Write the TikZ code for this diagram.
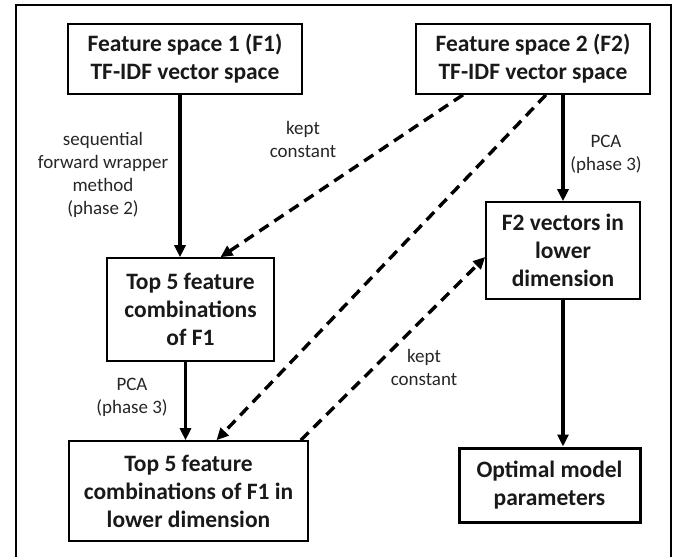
\documentclass[tikz,border=0pt]{standalone}
\usepackage{fontspec}
\setmainfont{Carlito}
\usetikzlibrary{arrows.meta,positioning,calc}

\begin{document}
\begin{tikzpicture}[
    x=1pt, y=-1pt,
    % Process boxes: plain rectangles, bold text
    box/.style={rectangle, draw, line width=1.6pt, align=center, inner sep=2pt,
        font=\bfseries\fontsize{23.5}{28}\selectfont, text=black!90},
    % Final result box: heavier border
    finalbox/.style={box, line width=3pt},
    % Solid arrow
    arr/.style={-{Triangle[length=12pt,width=11pt]}, line width=3.4pt},
    % Dashed arrow (kept constant)
    dasharr/.style={-{Triangle[length=12pt,width=11pt]}, line width=3.4pt,
        dash pattern=on 11pt off 7pt},
    % Edge label
    lbl/.style={align=center, font=\fontsize{19}{23}\selectfont, text=black!85},
    % Outer frame
    frame/.style={line width=2pt},
]
\useasboundingbox (0,0) rectangle (678,557);

% ============================================================
% Outer frame (bottom edge cut off)
% ============================================================
\draw[frame] (16,557) -- (16,5) -- (671,5) -- (671,557);

% ============================================================
% Boxes
% ============================================================
\node[box, minimum width=234, minimum height=70] (f1) at (185,59)
    {Feature space 1 (F1)\\TF-IDF vector space};
\node[box, minimum width=234, minimum height=70] (f2) at (533,59)
    {Feature space 2 (F2)\\TF-IDF vector space};
\node[box, minimum width=167, minimum height=103] (top5) at (190.5,309.5)
    {Top 5 feature\\combinations\\of F1};
\node[box, minimum width=239, minimum height=100] (top5low) at (188.5,491)
    {Top 5 feature\\combinations of F1 in\\lower dimension};
\node[box, minimum width=154, minimum height=97] (f2low) at (563,250.5)
    {F2 vectors in\\lower\\dimension};
\node[finalbox, minimum width=181, minimum height=74] (optim) at (549.5,485)
    {Optimal model\\parameters};

% ============================================================
% Solid arrows
% ============================================================
\draw[arr] ([xshift=-5]f1.south) -- ([xshift=-5]f1.south |- top5.north);
\draw[arr] ([xshift=-5]top5.south) -- ([xshift=-5]top5.south |- top5low.north);
\draw[arr] (f2.south -| f2low.north) -- (f2low.north);
\draw[arr] (f2low.south) -- (f2low.south |- optim.north);

% ============================================================
% Dashed arrows (kept constant)
% ============================================================
\draw[dasharr] ([xshift=-70]f2.south) -- ([xshift=30]top5.north);
\draw[dasharr] ([xshift=13]f2.south) -- ([xshift=28]top5low.north);
\draw[dasharr] ([xshift=-8]top5low.north east) -- ([yshift=-6.5]f2low.west);

% ============================================================
% Labels
% ============================================================
\node[lbl] (lblsfw) at (103,175) {sequential\\forward wrapper\\method\\(phase 2)};
\node[lbl] (lblkc1) at (303,139) {kept\\constant};
\node[lbl] (lblpca2) at (606,154) {PCA\\(phase 3)};
\node[lbl] (lblpca1) at (132,397) {PCA\\(phase 3)};
\node[lbl] (lblkc2) at (424,367) {kept\\constant};

\end{tikzpicture}
\end{document}
